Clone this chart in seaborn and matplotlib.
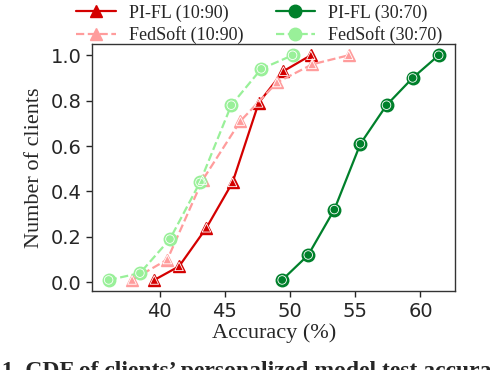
import pandas as pd
import matplotlib.pyplot as plt
import seaborn as sns

# CDF points
pifl_1090_x = [39.6, 41.5, 43.6, 45.6, 47.6, 49.5, 51.6]
pifl_1090_y = [0.01, 0.07, 0.24, 0.44, 0.79, 0.93, 1.0]
fedsoft_1090_x = [37.9, 40.6, 43.3, 46.2, 49.0, 51.7, 54.5]
fedsoft_1090_y = [0.01, 0.10, 0.45, 0.71, 0.88, 0.96, 1.0]
pifl_3070_x = [49.4, 51.4, 53.4, 55.4, 57.4, 59.4, 61.4]
pifl_3070_y = [0.01, 0.12, 0.32, 0.61, 0.78, 0.90, 1.0]
fedsoft_3070_x = [36.1, 38.5, 40.8, 43.1, 45.5, 47.8, 50.2]
fedsoft_3070_y = [0.01, 0.04, 0.19, 0.44, 0.78, 0.94, 1.0]

series = [
    ("PI-FL (10:90)", pifl_1090_x, pifl_1090_y, "#d40000", "^", "-"),
    ("FedSoft (10:90)", fedsoft_1090_x, fedsoft_1090_y, "#ff9c9c", "^", "--"),
    ("PI-FL (30:70)", pifl_3070_x, pifl_3070_y, "#00802b", "o", "-"),
    ("FedSoft (30:70)", fedsoft_3070_x, fedsoft_3070_y, "#99f099", "o", "--"),
]

sns.set_style("ticks")
plt.rcParams["font.family"] = ["DejaVu Sans"]

fig = plt.figure(figsize=(4.9, 3.7), dpi=100)
ax = fig.add_axes([0.188, 0.213, 0.741, 0.668])

serif = "Liberation Serif"
for name, xs, ys, col, mk, ls in series:
    df = pd.DataFrame({"x": xs, "y": ys})
    sns.lineplot(data=df, x="x", y="y", ax=ax, color=col, linestyle=ls,
                 linewidth=1.6, marker=mk, markersize=9, markerfacecolor=col,
                 markeredgecolor=col, markeredgewidth=1.0, label=name,
                 dashes=False if ls == "-" else (4, 2.5))
    # thin white ring inside the marker
    ax.scatter(xs, ys, marker=mk, s=38, facecolors="none",
               edgecolors="white", linewidths=0.6, zorder=5)

ax.set_xticks([40, 45, 50, 55, 60])
ax.set_yticks([0.0, 0.2, 0.4, 0.6, 0.8, 1.0])
ax.tick_params(labelsize=14, length=4, width=1)
ax.set_xlabel("Accuracy (%)", fontsize=16, family=serif, labelpad=2)
ax.set_ylabel("Number of clients", fontsize=16, family=serif, labelpad=5)
for s in ax.spines.values():
    s.set_color("#333333")
    s.set_linewidth(1.0)

handles, labels = ax.get_legend_handles_labels()
ax.legend(handles, labels, ncol=2, frameon=False, loc="lower center",
          bbox_to_anchor=(0.46, 0.97), prop={"family": serif, "size": 13},
          columnspacing=1.8, handlelength=2.2, handletextpad=0.72,
          labelspacing=0.25, borderaxespad=0)

fig.text(-0.088, -0.018, "Fig. 1. CDF of clients\u2019 personalized model test accuracy.",
         family=serif, fontweight="bold", fontsize=17, ha="left", va="baseline")

fig.savefig("out.png", dpi=100)
